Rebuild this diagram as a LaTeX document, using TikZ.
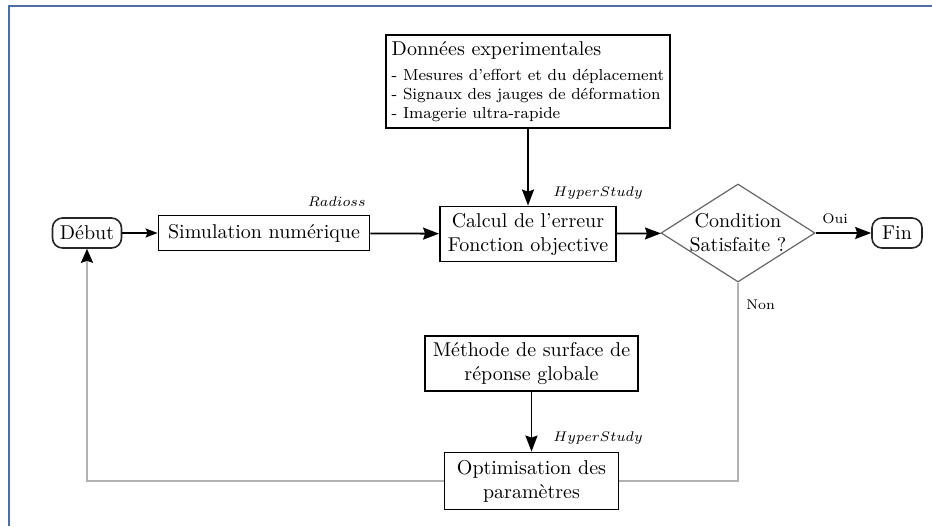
\documentclass[tikz,border=0pt]{standalone}
\usepackage{tikz}
\usetikzlibrary{arrows.meta,positioning,calc,shapes.geometric}
\definecolor{framebl}{HTML}{4F6FA0}
\tikzset{box/.style={draw,line width=0.9pt,align=center,inner sep=3pt},
  term/.style={box,rounded corners=5pt,draw=black!85,line width=0.8pt},
  arr/.style={-{Stealth[length=8pt,width=6pt,inset=1pt]},line width=0.9pt},
  back/.style={draw=black!30,line width=1pt}}

\begin{document}
\begin{tikzpicture}[x=0.5pt,y=-0.5pt,
  tool/.style={font=\scriptsize,inner sep=1pt},
  cond/.style={diamond,draw=black!60,line width=0.6pt,aspect=1.57,inner sep=-1.5pt,align=center}]
\useasboundingbox (0,0) rectangle (932,526);
\draw[framebl,line width=1pt] (9,526) -- (9,6) -- (932,6);
 % main chain
 \node[term,minimum width=34.5pt,minimum height=15pt] (deb) at (87,233) {Début};
 \node[box,minimum width=105.5pt,minimum height=17.5pt] (sim) at (264,233) {Simulation numérique};
 \node[box,minimum width=88pt,minimum height=27.5pt] (calc) at (528,234) {Calcul de l'erreur\\Fonction objective};
 \node[cond,minimum width=77pt,minimum height=49pt] (sat) at (738,233) {Condition\\Satisfaite ?};
 \node[term,minimum width=25pt,minimum height=15pt] (fin) at (897,233) {Fin};
 \node[box,align=left,font=\footnotesize,minimum width=139pt,minimum height=45.5pt] (don) at (528,81.5)
   {{\normalsize Données experimentales}\\[3pt]- Mesures d'effort et du déplacement\\- Signaux des jauges de déformation\\- Imagerie ultra-rapide};
 % optimisation loop
 \node[box,minimum width=106.5pt,minimum height=27.5pt] (meth) at (531.5,363.5) {Méthode de surface de\\réponse globale};
 \node[box,minimum width=87pt,minimum height=28.5pt] (opt) at (531.5,481) {Optimisation des\\paramètres};
 \node[tool,anchor=south east] (rad) at (368,209) {$Radioss$};
 \node[tool] (hs1) at (598,193) {$HyperStudy$};
 \node[tool] (hs2) at (598,438) {$HyperStudy$};
 \node[tool,anchor=west] (non) at (744,305) {Non};
 \draw[arr,-{Stealth[length=6pt,width=4.5pt,inset=1pt]}] (deb) -- (sim);
 \draw[arr] (sim) -- (calc);
 \draw[arr] (don) -- (calc);
 \draw[arr] (calc) -- (sat);
 \draw[arr] (sat) -- node[tool,above=3pt,pos=0.35]{Oui} (fin);
 \draw[arr] (meth) -- (opt);
 \draw[back] (sat.south) |- (opt.east);
 \draw[back,-{Stealth[length=7pt,width=6pt,inset=1pt,color=black]}] (opt.west) -| (deb.south);
\end{tikzpicture}
\end{document}
